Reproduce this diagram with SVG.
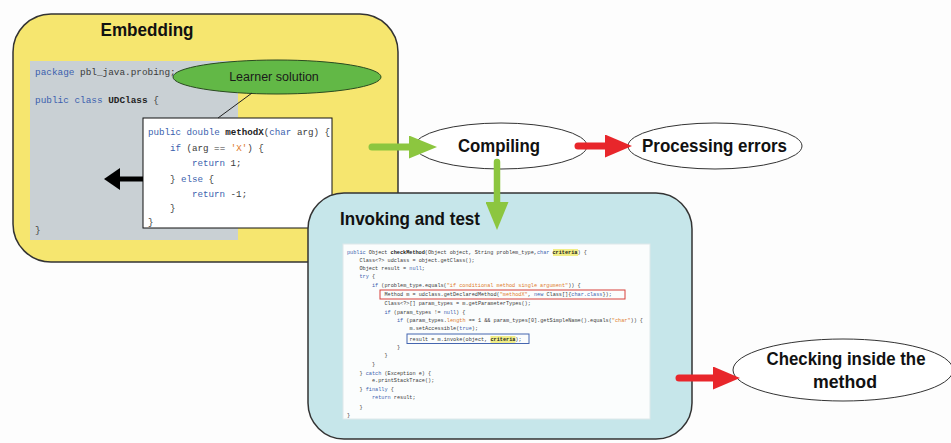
<svg xmlns="http://www.w3.org/2000/svg" width="951" height="443" viewBox="0 0 951 443">
<defs>
<style>
.lbl{font-family:"Liberation Sans",Arial,sans-serif;font-weight:bold;fill:#111;}
.code{font-family:"Liberation Mono","Courier New",monospace;fill:#3a3a3a;}
.kw{fill:#3b5fae;}
.st{fill:#e07b2c;}
.b{font-weight:bold;fill:#222;}
.ell{fill:#ffffff;stroke:#333;stroke-width:1;}
.box{stroke:#333;stroke-width:1.5;}
</style>
<marker id="hGreen" markerUnits="userSpaceOnUse" markerWidth="28" markerHeight="23" refX="1" refY="11.5" orient="auto" viewBox="0 0 28 23">
<path d="M0,0 L28,11.5 L0,23 z" fill="#8cc63f"/>
</marker>
<marker id="hRed" markerUnits="userSpaceOnUse" markerWidth="27" markerHeight="23" refX="1" refY="11.5" orient="auto" viewBox="0 0 27 23">
<path d="M0,0 L27,11.5 L0,23 z" fill="#e8262b"/>
</marker>
<marker id="hBlack" markerUnits="userSpaceOnUse" markerWidth="16" markerHeight="22" refX="1" refY="11" orient="auto" viewBox="0 0 16 22">
<path d="M0,0 L16,11 L0,22 z" fill="#000"/>
</marker>
</defs>
<rect x="0" y="0" width="951" height="443" fill="#fdfdfd"/>

<g id="embedding">
<rect class="box" x="13" y="14" width="385" height="248" rx="38" fill="#f6e66f"/>
<text class="lbl" x="147" y="36" font-size="18" text-anchor="middle" textLength="93" lengthAdjust="spacingAndGlyphs">Embedding</text>
<rect x="30" y="61" width="208" height="179" fill="#c9d0d4"/>
<text class="code" font-size="9.4" x="35" y="75"><tspan class="kw">package</tspan> pbl_java.probing;</text>
<text class="code" font-size="9.4" x="35" y="103"><tspan class="kw">public class</tspan> <tspan class="b">UDClass</tspan> {</text>
<text class="code" font-size="9.4" x="35" y="233">}</text>
<g id="learner-method">
<rect x="143" y="118" width="189" height="110" fill="#ffffff" stroke="#111" stroke-width="1"/>
<text class="code" font-size="9.2" x="148" y="135"><tspan class="kw">public double</tspan> <tspan class="b">methodX</tspan>(<tspan class="kw">char</tspan> arg) {</text>
<text class="code" font-size="9.2" x="170" y="151"><tspan class="kw">if</tspan> (arg == <tspan class="st">'X'</tspan>) {</text>
<text class="code" font-size="9.2" x="192" y="166"><tspan class="kw">return</tspan> 1;</text>
<text class="code" font-size="9.2" x="170" y="182">} <tspan class="kw">else</tspan> {</text>
<text class="code" font-size="9.2" x="192" y="197"><tspan class="kw">return</tspan> -1;</text>
<text class="code" font-size="9.2" x="170" y="211">}</text>
<text class="code" font-size="9.2" x="148" y="225">}</text>
</g>
</g>

<g id="learner-solution">
<ellipse cx="277" cy="77" rx="104" ry="17" fill="#62b846" stroke="#2a4a20" stroke-width="1"/>
<text x="274" y="81" font-family="Liberation Sans,Arial,sans-serif" font-size="12.5" fill="#1a1a1a" text-anchor="middle">Learner solution</text>
</g>

<g id="compiling">
<ellipse class="ell" cx="501" cy="146" rx="86" ry="23"/>
<text class="lbl" x="499" y="152" font-size="18" text-anchor="middle" textLength="82" lengthAdjust="spacingAndGlyphs">Compiling</text>
</g>

<g id="processing-errors">
<ellipse class="ell" cx="715" cy="146" rx="87" ry="23"/>
<text class="lbl" x="714.5" y="152" font-size="18" text-anchor="middle" textLength="145" lengthAdjust="spacingAndGlyphs">Processing errors</text>
</g>

<g id="invoking">
<rect class="box" x="308" y="193" width="384" height="246" rx="36" fill="#c6e6ea"/>
<text class="lbl" x="340" y="225" font-size="19" textLength="140" lengthAdjust="spacingAndGlyphs">Invoking and test</text>
<rect x="343" y="244" width="307" height="175" fill="#fbfdfd" stroke="#dde8ea" stroke-width="1"/>
<rect x="553" y="249" width="25" height="7" fill="#f1ee86"/>
<rect x="490.5" y="336" width="25" height="7" fill="#f1ee86"/>
<rect x="380" y="290" width="245" height="9" fill="none" stroke="#d8413a" stroke-width="1"/>
<rect x="407" y="334" width="122" height="9.5" fill="none" stroke="#4566b0" stroke-width="1"/>
<g class="code" font-size="5.2">
<text x="347" y="254"><tspan class="kw">public</tspan> Object <tspan class="b">checkMethod</tspan>(Object object, String problem_type,<tspan class="kw">char</tspan> <tspan class="b">criteria</tspan>) {</text>
<text x="359.5" y="262">Class&lt;?&gt; udclass = object.getClass();</text>
<text x="359.5" y="270">Object result = <tspan class="kw">null</tspan>;</text>
<text x="359.5" y="278"><tspan class="kw">try</tspan> {</text>
<text x="372" y="286.5"><tspan class="kw">if</tspan> (problem_type.equals(<tspan class="st">"if conditional method single argument"</tspan>)) {</text>
<text x="384.5" y="296">Method m = udclass.getDeclaredMethod(<tspan class="st">"methodX"</tspan>, <tspan class="kw">new</tspan> Class[]{<tspan class="kw">char.class</tspan>});</text>
<text x="384.5" y="304.5">Class&lt;?&gt;[] param_types = m.getParameterTypes();</text>
<text x="384.5" y="313.5"><tspan class="kw">if</tspan> (param_types != <tspan class="kw">null</tspan>) {</text>
<text x="397" y="322"><tspan class="kw">if</tspan> (param_types.<tspan class="st">length</tspan> == 1 &amp;&amp; param_types[0].getSimpleName().equals(<tspan class="st">"char"</tspan>)) {</text>
<text x="409.5" y="330">m.setAccessible(<tspan class="kw">true</tspan>);</text>
<text x="409.5" y="340.5">result = m.invoke(object, <tspan class="b">criteria</tspan>);</text>
<text x="397" y="348.5">}</text>
<text x="384.5" y="357">}</text>
<text x="372" y="365.5">}</text>
<text x="359.5" y="374.5">} <tspan class="kw">catch</tspan> (Exception e) {</text>
<text x="372" y="382">e.printStackTrace();</text>
<text x="359.5" y="391">} <tspan class="kw">finally</tspan> {</text>
<text x="372" y="399"><tspan class="kw">return</tspan> result;</text>
<text x="359.5" y="408.5">}</text>
<text x="347" y="417">}</text>
</g>
</g>

<g id="checking">
<ellipse class="ell" cx="843" cy="370" rx="110" ry="31"/>
<text class="lbl" x="846" y="365" font-size="18" text-anchor="middle" textLength="159" lengthAdjust="spacingAndGlyphs">Checking inside the</text>
<text class="lbl" x="845" y="388" font-size="18" text-anchor="middle" textLength="64" lengthAdjust="spacingAndGlyphs">method</text>
</g>

<g id="connectors">
<line x1="252" y1="93" x2="218" y2="118" stroke="#222" stroke-width="1"/>
<line x1="143" y1="179" x2="119" y2="179" stroke="#000" stroke-width="5" marker-end="url(#hBlack)"/>
<line x1="372" y1="147" x2="410" y2="147" stroke="#8cc63f" stroke-width="7" stroke-linecap="round" marker-end="url(#hGreen)"/>
<line x1="578" y1="146" x2="606" y2="146" stroke="#e8262b" stroke-width="7" stroke-linecap="round" marker-end="url(#hRed)"/>
<line x1="497" y1="162" x2="497" y2="203" stroke="#8cc63f" stroke-width="6.5" stroke-linecap="round" marker-end="url(#hGreen)"/>
<line x1="679" y1="378" x2="714" y2="378" stroke="#e8262b" stroke-width="7" stroke-linecap="round" marker-end="url(#hRed)"/>
</g>
</svg>
